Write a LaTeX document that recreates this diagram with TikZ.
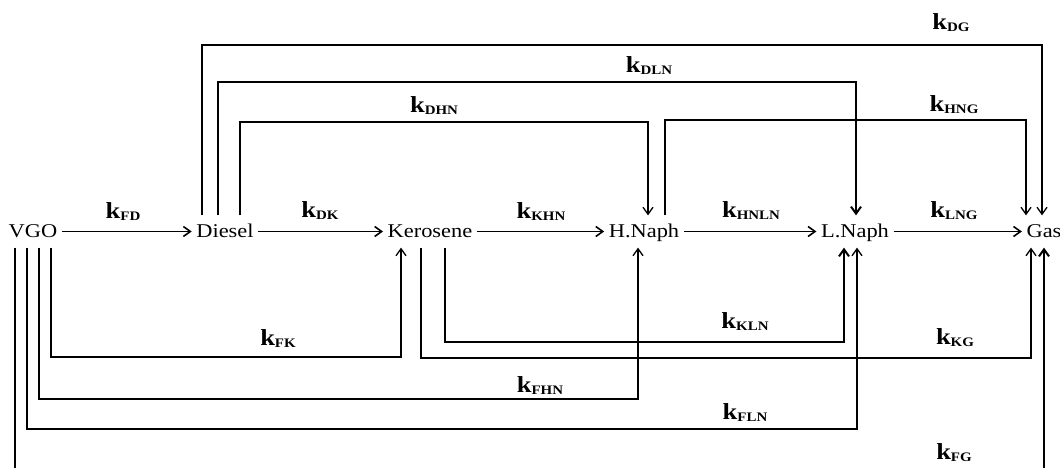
\documentclass[tikz,border=0pt]{standalone}
\usepackage{fontspec}
\setmainfont[FakeStretch=1.15]{Liberation Serif}
\usetikzlibrary{arrows.meta}
% rate constant: bold k with a bold subscript
\newcommand{\rate}[1]{{\fontsize{23}{23}\selectfont\bfseries k}\raisebox{-2pt}{\fontsize{13}{13}\selectfont\bfseries #1}}
\begin{document}
\begin{tikzpicture}[x=1pt,y=-1pt,line width=1.3pt,
  species/.style={anchor=base,font=\fontsize{19.5}{19.5}\selectfont,
    text height=21pt,text depth=10pt,inner ysep=0pt,inner xsep=4pt},
  flow/.style={-{Straight Barb[length=7pt,width=10pt]}},
  mainflow/.style={flow,line width=1.6pt},
  heavy/.style={line width=2pt},
  ratelbl/.style={inner sep=0pt}]
\useasboundingbox (0,0) rectangle (1060,468);
\clip (0,0) rectangle (1060,468);
\fill[white] (0,0) rectangle (1060,468);

% lumped species
\node[species] (vgo)    at (33,237)   {VGO};
\node[species] (diesel) at (225,237)  {Diesel};
\node[species] (kero)   at (430,237)  {Kerosene};
\node[species] (hn)     at (644,237)  {H.Naph};
\node[species] (ln)     at (855,237)  {L.Naph};
\node[species] (gas)    at (1044,237) {Gas};

% consecutive cracking steps
\draw[mainflow] (vgo) -- (diesel);
\draw[mainflow] (diesel) -- (kero);
\draw[mainflow] (kero) -- (hn);
\draw[mainflow] (hn) -- (ln);
\draw[mainflow] (ln) -- (gas);

% bypass routes above the main line
\draw[flow] (202,0 |- diesel.north) -- (202,45) -- (1042,45) -- (1042,0 |- gas.north);
\draw[flow,heavy] (218,0 |- diesel.north) -- (218,82) -- (856,82) -- (856,0 |- ln.north);
\draw[flow] (240,0 |- diesel.north) -- (240,122) -- (648,122) -- (648,0 |- hn.north);
\draw[flow] (665,0 |- hn.north) -- (665,120) -- (1026,120) -- (1026,0 |- gas.north);

% bypass routes below the main line
\draw[flow] (51,0 |- vgo.south) -- (51,357) -- (401,357) -- (401,0 |- kero.south);
\draw[flow] (39,0 |- vgo.south) -- (39,399) -- (638,399) -- (638,0 |- hn.south);
\draw[flow] (27,0 |- vgo.south) -- (27,429) -- (857,429) -- (857,0 |- ln.south);
\draw[flow,heavy] (15,0 |- vgo.south) -- (15,490) -- (1044,490) -- (1044,0 |- gas.south);
\draw[flow,heavy] (445,0 |- kero.south) -- (445,342) -- (844,342) -- (844,0 |- ln.south);
\draw[flow] (421,0 |- kero.south) -- (421,358) -- (1031,358) -- (1031,0 |- gas.south);

% rate constants
\node[ratelbl] (kFD)   at (123,212) {\rate{FD}};
\node[ratelbl] (kDK)   at (320,211) {\rate{DK}};
\node[ratelbl] (kKHN)  at (541,212) {\rate{KHN}};
\node[ratelbl] (kHNLN) at (751,211) {\rate{HNLN}};
\node[ratelbl] (kLNG)  at (954,211) {\rate{LNG}};
\node[ratelbl] (kDG)   at (951,23)  {\rate{DG}};
\node[ratelbl] (kDLN)  at (649,66)  {\rate{DLN}};
\node[ratelbl] (kHNG)  at (954,105) {\rate{HNG}};
\node[ratelbl] (kDHN)  at (434,106) {\rate{DHN}};
\node[ratelbl] (kFK)   at (278,339) {\rate{FK}};
\node[ratelbl] (kFHN)  at (540,386) {\rate{FHN}};
\node[ratelbl] (kKLN)  at (745,322) {\rate{KLN}};
\node[ratelbl] (kKG)   at (955,338) {\rate{KG}};
\node[ratelbl] (kFLN)  at (745,413) {\rate{FLN}};
\node[ratelbl] (kFG)   at (954,453) {\rate{FG}};
\end{tikzpicture}
\end{document}
